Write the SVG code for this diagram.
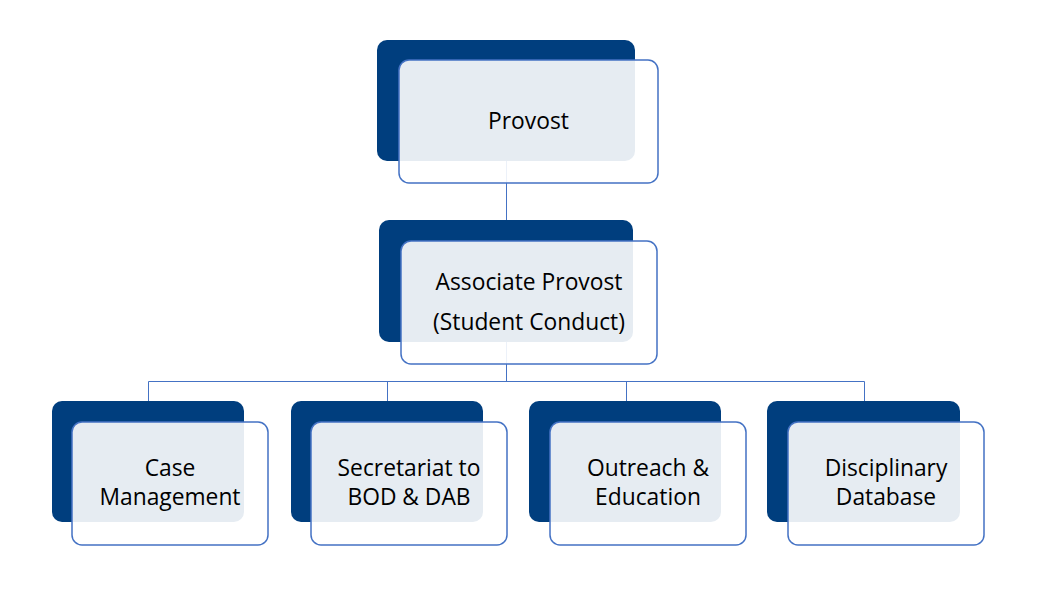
<svg xmlns="http://www.w3.org/2000/svg" width="1043" height="593" viewBox="0 0 1043 593">
<style>
.back{fill:#003E7E;}
.front{fill:#ffffff;fill-opacity:0.9;stroke:#4472C4;stroke-width:1.5;}
.conn{fill:none;stroke:#4472C4;stroke-width:1;}
text{font-family:"Open Sans","Liberation Sans",sans-serif;font-size:22.8px;fill:#000000;text-anchor:middle;}
</style>
<rect width="1043" height="593" fill="#ffffff"/>
<g id="connectors">
<path class="conn" d="M506.5,161 V220"/>
<path class="conn" d="M506.5,342 V381.5"/>
<path class="conn" d="M148.5,401 V381.5 H864.5 V401"/>
<path class="conn" d="M387.5,381.5 V401"/>
<path class="conn" d="M626.5,381.5 V401"/>
</g>
<g id="provost">
<rect class="back" x="377" y="40" width="258" height="121" rx="10"/>
<rect class="front" x="399" y="60" width="259" height="123" rx="10"/>
<text x="528.5" y="129">Provost</text>
</g>
<g id="associate-provost">
<rect class="back" x="379" y="220" width="254" height="122" rx="10"/>
<rect class="front" x="401" y="241" width="256" height="123" rx="10"/>
<text x="529" y="290">Associate Provost</text>
<text x="529" y="330">(Student Conduct)</text>
</g>
<g id="case-management">
<rect class="back" x="52" y="401" width="192" height="121" rx="10"/>
<rect class="front" x="72" y="422" width="196" height="123" rx="10"/>
<text x="170" y="476">Case</text>
<text x="170" y="505">Management</text>
</g>
<g id="secretariat">
<rect class="back" x="291" y="401" width="192" height="121" rx="10"/>
<rect class="front" x="311" y="422" width="196" height="123" rx="10"/>
<text x="409" y="476">Secretariat to</text>
<text x="409" y="505">BOD &amp; DAB</text>
</g>
<g id="outreach">
<rect class="back" x="529" y="401" width="192" height="121" rx="10"/>
<rect class="front" x="550" y="422" width="196" height="123" rx="10"/>
<text x="648" y="476">Outreach &amp;</text>
<text x="648" y="505">Education</text>
</g>
<g id="disciplinary-database">
<rect class="back" x="767" y="401" width="193" height="121" rx="10"/>
<rect class="front" x="788" y="422" width="196" height="123" rx="10"/>
<text x="886" y="476">Disciplinary</text>
<text x="886" y="505">Database</text>
</g>
</svg>
